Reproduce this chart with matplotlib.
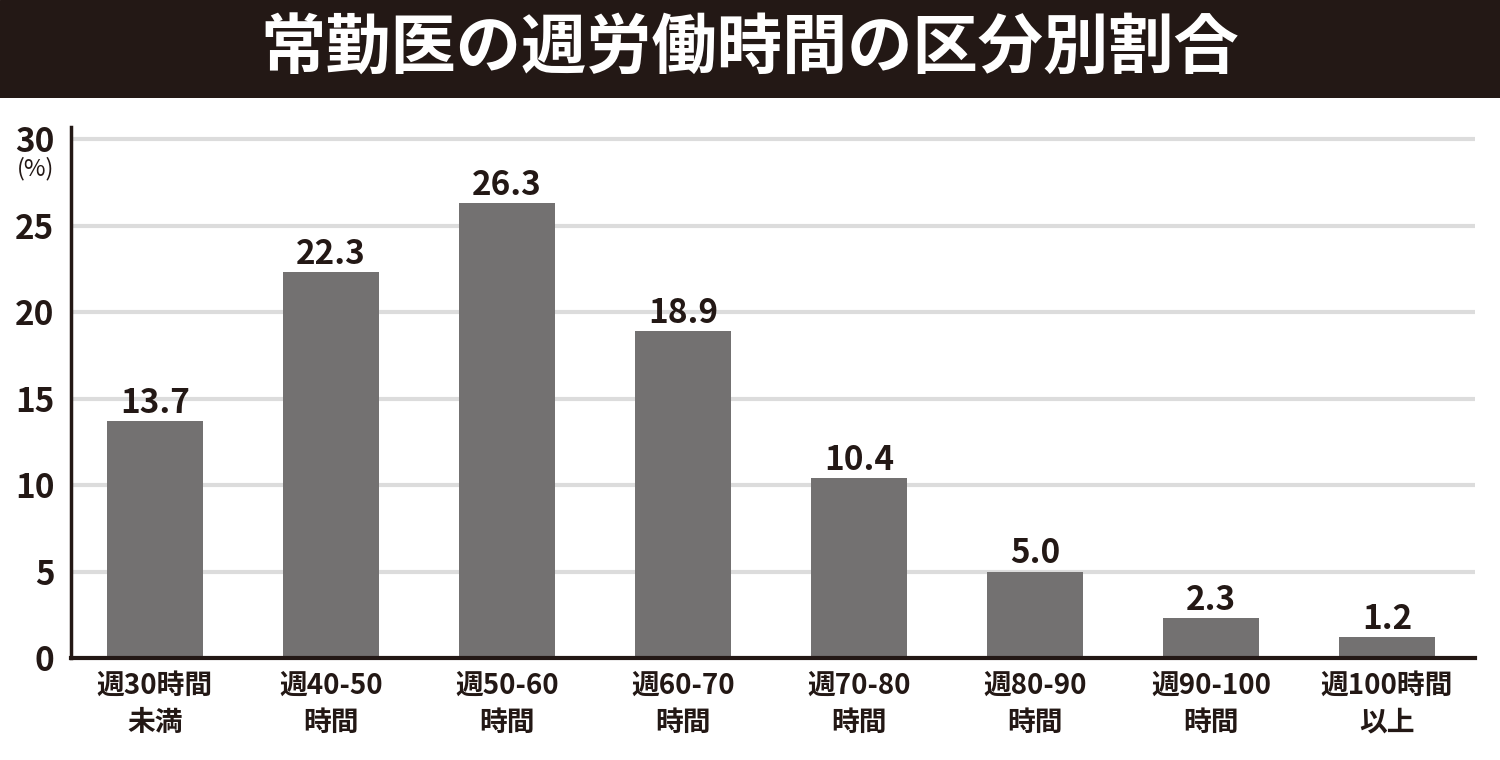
import matplotlib
matplotlib.use("Agg")
import matplotlib.pyplot as plt

plt.rcParams['font.family'] = ['Noto Sans CJK JP', 'DejaVu Sans']

title = "常勤医の週労働時間の区分別割合"
categories = ["週30時間\n未満", "週40-50\n時間", "週50-60\n時間", "週60-70\n時間",
              "週70-80\n時間", "週80-90\n時間", "週90-100\n時間", "週100時間\n以上"]
values = [13.7, 22.3, 26.3, 18.9, 10.4, 5.0, 2.3, 1.2]
yticks = [0, 5, 10, 15, 20, 25, 30]
unit_label = "(%)"

DARK = "#231815"
BAR = "#737171"
GRID = "#dcdcdc"

fig = plt.figure(figsize=(15, 7.6), dpi=100)
# title band
band = fig.add_axes([0, 1 - 98 / 760, 1, 98 / 760])
band.set_axis_off()
band.add_patch(plt.Rectangle((0, 0), 1, 1, transform=band.transAxes, color=DARK))
band.text(0.5, 0.5, title, transform=band.transAxes, ha='center', va='center',
          color='white', fontsize=47, fontweight='bold')

ax = fig.add_axes([71 / 1500, 1 - 658 / 760, (1475 - 71) / 1500, (658 - 127) / 760])
x = list(range(len(values)))
ax.bar(x, values, width=0.55, color=BAR, zorder=3)
ax.set_xlim(-0.477, 7.5)
ax.set_ylim(0, 30.7)
ax.set_yticks(yticks)
ax.set_yticklabels([str(t) for t in yticks], fontsize=24, fontweight='bold', color=DARK)
ax.set_xticks(x)
ax.set_xticklabels(categories, fontsize=20, fontweight='bold', color=DARK, linespacing=1.4)
ax.tick_params(axis='both', length=0)
ax.tick_params(axis='y', pad=12)
ax.tick_params(axis='x', pad=10)
for yv in yticks[1:]:
    ax.axhline(yv, color=GRID, lw=3, zorder=1)
for s in ['top', 'right']:
    ax.spines[s].set_visible(False)
ax.spines['left'].set_color(DARK)
ax.spines['left'].set_linewidth(2.5)
ax.spines['bottom'].set_color(DARK)
ax.spines['bottom'].set_linewidth(3)
ax.spines['bottom'].set_zorder(4)

for xi, v in zip(x, values):
    ax.annotate(f"{v:.1f}", (xi, v), xytext=(0, 1), textcoords='offset points',
                ha='center', va='bottom', fontsize=24, fontweight='bold', color=DARK)

fig.text(36 / 1500, 1 - 169 / 760, unit_label, ha='center', va='center',
         fontsize=17, color=DARK)

fig.savefig("out.png", dpi=100, facecolor='white')
